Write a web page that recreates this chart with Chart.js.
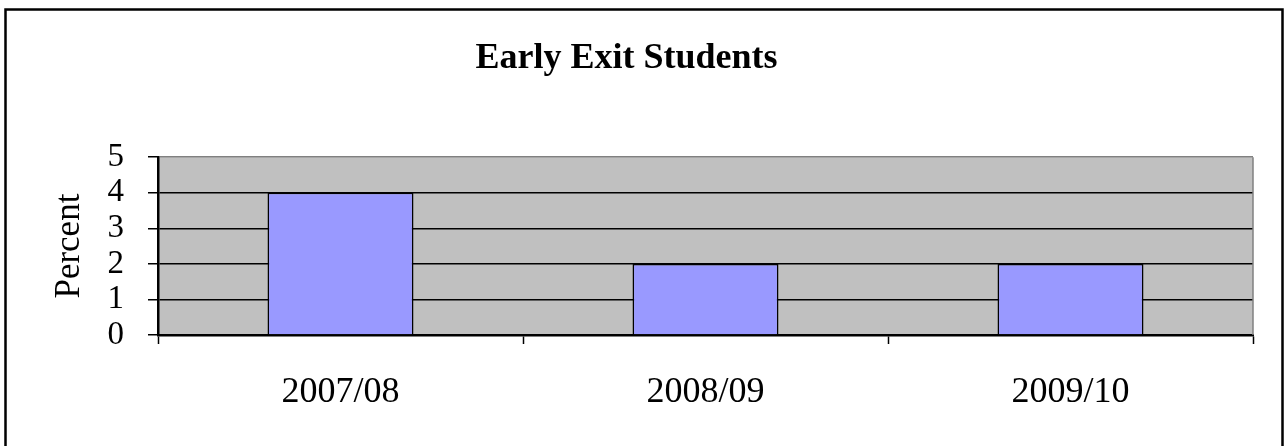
<!DOCTYPE html>
<html>
<head>
<meta charset="utf-8">
<script src="https://cdn.jsdelivr.net/npm/chart.js@4"></script>
<style>
  html, body { margin: 0; padding: 0; background: #fff; }
  #wrap { width: 1285px; height: 446px; position: relative; }
</style>
</head>
<body>
<div id="wrap"><canvas id="early-exit-chart"></canvas></div>
<script>
var years = ["2007/08", "2008/09", "2009/10"];
var percentValues = [4, 2, 2];
var yTicks = [0, 1, 2, 3, 4, 5];

var serif = "'Liberation Serif', 'Times New Roman', serif";

// gray plot background, frame around the picture, gray right edge of plot
var plotArea = {
  id: 'plotArea',
  beforeDraw: function (chart) {
    var ctx = chart.ctx, a = chart.chartArea;
    ctx.save();
    ctx.fillStyle = '#C0C0C0';
    ctx.fillRect(a.left, a.top, a.right - a.left, a.bottom - a.top);
    ctx.strokeStyle = '#000';
    ctx.lineWidth = 2.5;
    ctx.beginPath();
    ctx.moveTo(5.5, 446);
    ctx.lineTo(5.5, 9.5);
    ctx.lineTo(1282.5, 9.5);
    ctx.lineTo(1282.5, 446);
    ctx.stroke();
    ctx.restore();
  },
  afterDraw: function (chart) {
    var ctx = chart.ctx, a = chart.chartArea;
    ctx.save();
    ctx.strokeStyle = '#808080';
    ctx.lineWidth = 1.5;
    ctx.beginPath();
    ctx.moveTo(a.right, a.top);
    ctx.lineTo(a.right, a.bottom);
    ctx.stroke();
    ctx.restore();
  }
};

var earlyExitChart = new Chart(document.getElementById('early-exit-chart'), {
  type: 'bar',
  data: {
    labels: years,
    datasets: [{
      label: "Percent",
      data: percentValues,
      backgroundColor: "#9999FF",
      borderColor: "#000",
      borderWidth: 1.6,
      barPercentage: 0.8,
      categoryPercentage: 0.5
    }]
  },
  options: {
    responsive: true, maintainAspectRatio: false, animation: false,
    layout: {padding: {left: 0, right: 32, top: 0, bottom: 0}},
    plugins: {
      legend: {display: false},
      tooltip: {enabled: false},
      title: {
        display: true, text: "Early Exit Students", color: '#000',
        font: {family: serif, size: 36, weight: 'bold', lineHeight: 1.2},
        padding: {top: 37, bottom: 77}
      }
    },
    scales: {
      x: {
        grid: {drawOnChartArea: false, drawTicks: true, tickLength: 9, tickColor: '#000', tickWidth: 1.5, offset: true},
        border: {display: true, color: '#000', width: 2.5},
        ticks: {color: '#000', padding: 27, maxRotation: 0, font: {family: serif, size: 36}},
        afterFit: function (s) { s.height = 111; }
      },
      y: {
        min: 0, max: 5,
        afterBuildTicks: function (s) { s.ticks = yTicks.map(function (v) { return {value: v}; }); },
        grid: {
          color: function (c) { return c.tick && c.tick.value === 5 ? '#808080' : '#000'; },
          lineWidth: 1.5, tickLength: 10, tickColor: '#000', tickWidth: 1.5
        },
        border: {display: true, color: '#000', width: 2.5},
        ticks: {color: '#000', padding: 24, autoSkip: false, font: {family: serif, size: 33}},
        title: {
          display: true, text: "Percent", color: '#000',
          font: {family: serif, size: 35, lineHeight: 1.2},
          padding: {top: 49, bottom: 0}
        },
        afterFit: function (s) { s.width = 158; }
      }
    }
  },
  plugins: [plotArea]
});
</script>
</body>
</html>
